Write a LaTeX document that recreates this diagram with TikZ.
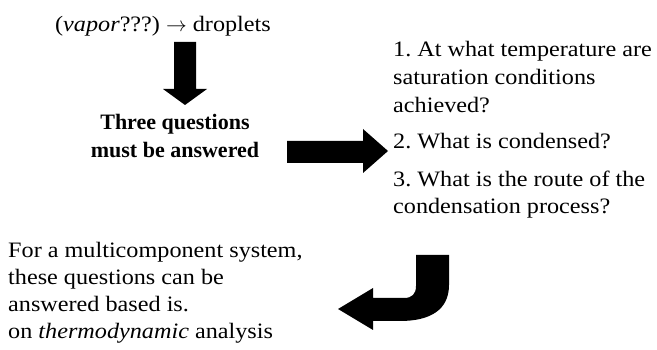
\documentclass[tikz,border=0pt]{standalone}
\usepackage{fontspec}
\setmainfont{Liberation Serif}[FakeStretch=1.1,
  ItalicFont={Liberation Serif Italic},
  BoldFont={Liberation Serif Bold}]
\newfontfamily\boldserif{Liberation Serif}[BoldFont={Liberation Serif Bold}]
\frenchspacing
\begin{document}
\begin{tikzpicture}[x=1pt,y=-1pt,
  txt/.style={inner sep=0pt,anchor=base west,font=\fontsize{22}{28}\selectfont},
  ctxt/.style={inner sep=0pt,anchor=base,font=\fontsize{22}{28}\selectfont},
  btxt/.style={inner sep=0pt,anchor=base,font=\boldserif\bfseries\fontsize{22}{28}\selectfont},
  blockarrow/.style={fill=black,draw=none}]
\useasboundingbox (0,0) rectangle (657,350);
% top
\node[ctxt] (top) at (163,32) {(\textit{vapor}???) $\rightarrow$ droplets};
\fill[blockarrow] (174,42) -- (196,42) -- (196,89) -- (207,89) -- (185,105) -- (163,89) -- (174,89) -- cycle;
% bold
\node[btxt] (q1) at (175,130) {Three questions};
\node[btxt] (q2) at (175,158) {must be answered};
\fill[blockarrow] (287,141) -- (363,141) -- (363,129) -- (388,151) -- (363,173) -- (363,163) -- (287,163) -- cycle;
% right list
\node[txt] (r1) at (393,57) {1. At what temperature are};
\node[txt] (r2) at (393,85) {saturation conditions};
\node[txt] (r3) at (393,113) {achieved?};
\node[txt] (r4) at (393,149) {2. What is condensed?};
\node[txt] (r5) at (393,187) {3. What is the route of the};
\node[txt] (r6) at (393,214) {condensation process?};
% curved arrow
\fill[blockarrow] (373,298) -- (404,298) .. controls (412,298) and (416,294) .. (416,286) -- (416,255) -- (449,255) -- (449,285)
  .. controls (449,310) and (430,321) .. (400,321) -- (373,321) -- (373,330) -- (338,309) -- (373,288) -- cycle;
% bottom left
\node[txt] (b1) at (8,258) {For a multicomponent system,};
\node[txt] (b2) at (8,285) {these questions can be};
\node[txt] (b3) at (8,312) {answered based is.};
\node[txt] (b4) at (8,338) {on \textit{thermodynamic} analysis};
\end{tikzpicture}
\end{document}
